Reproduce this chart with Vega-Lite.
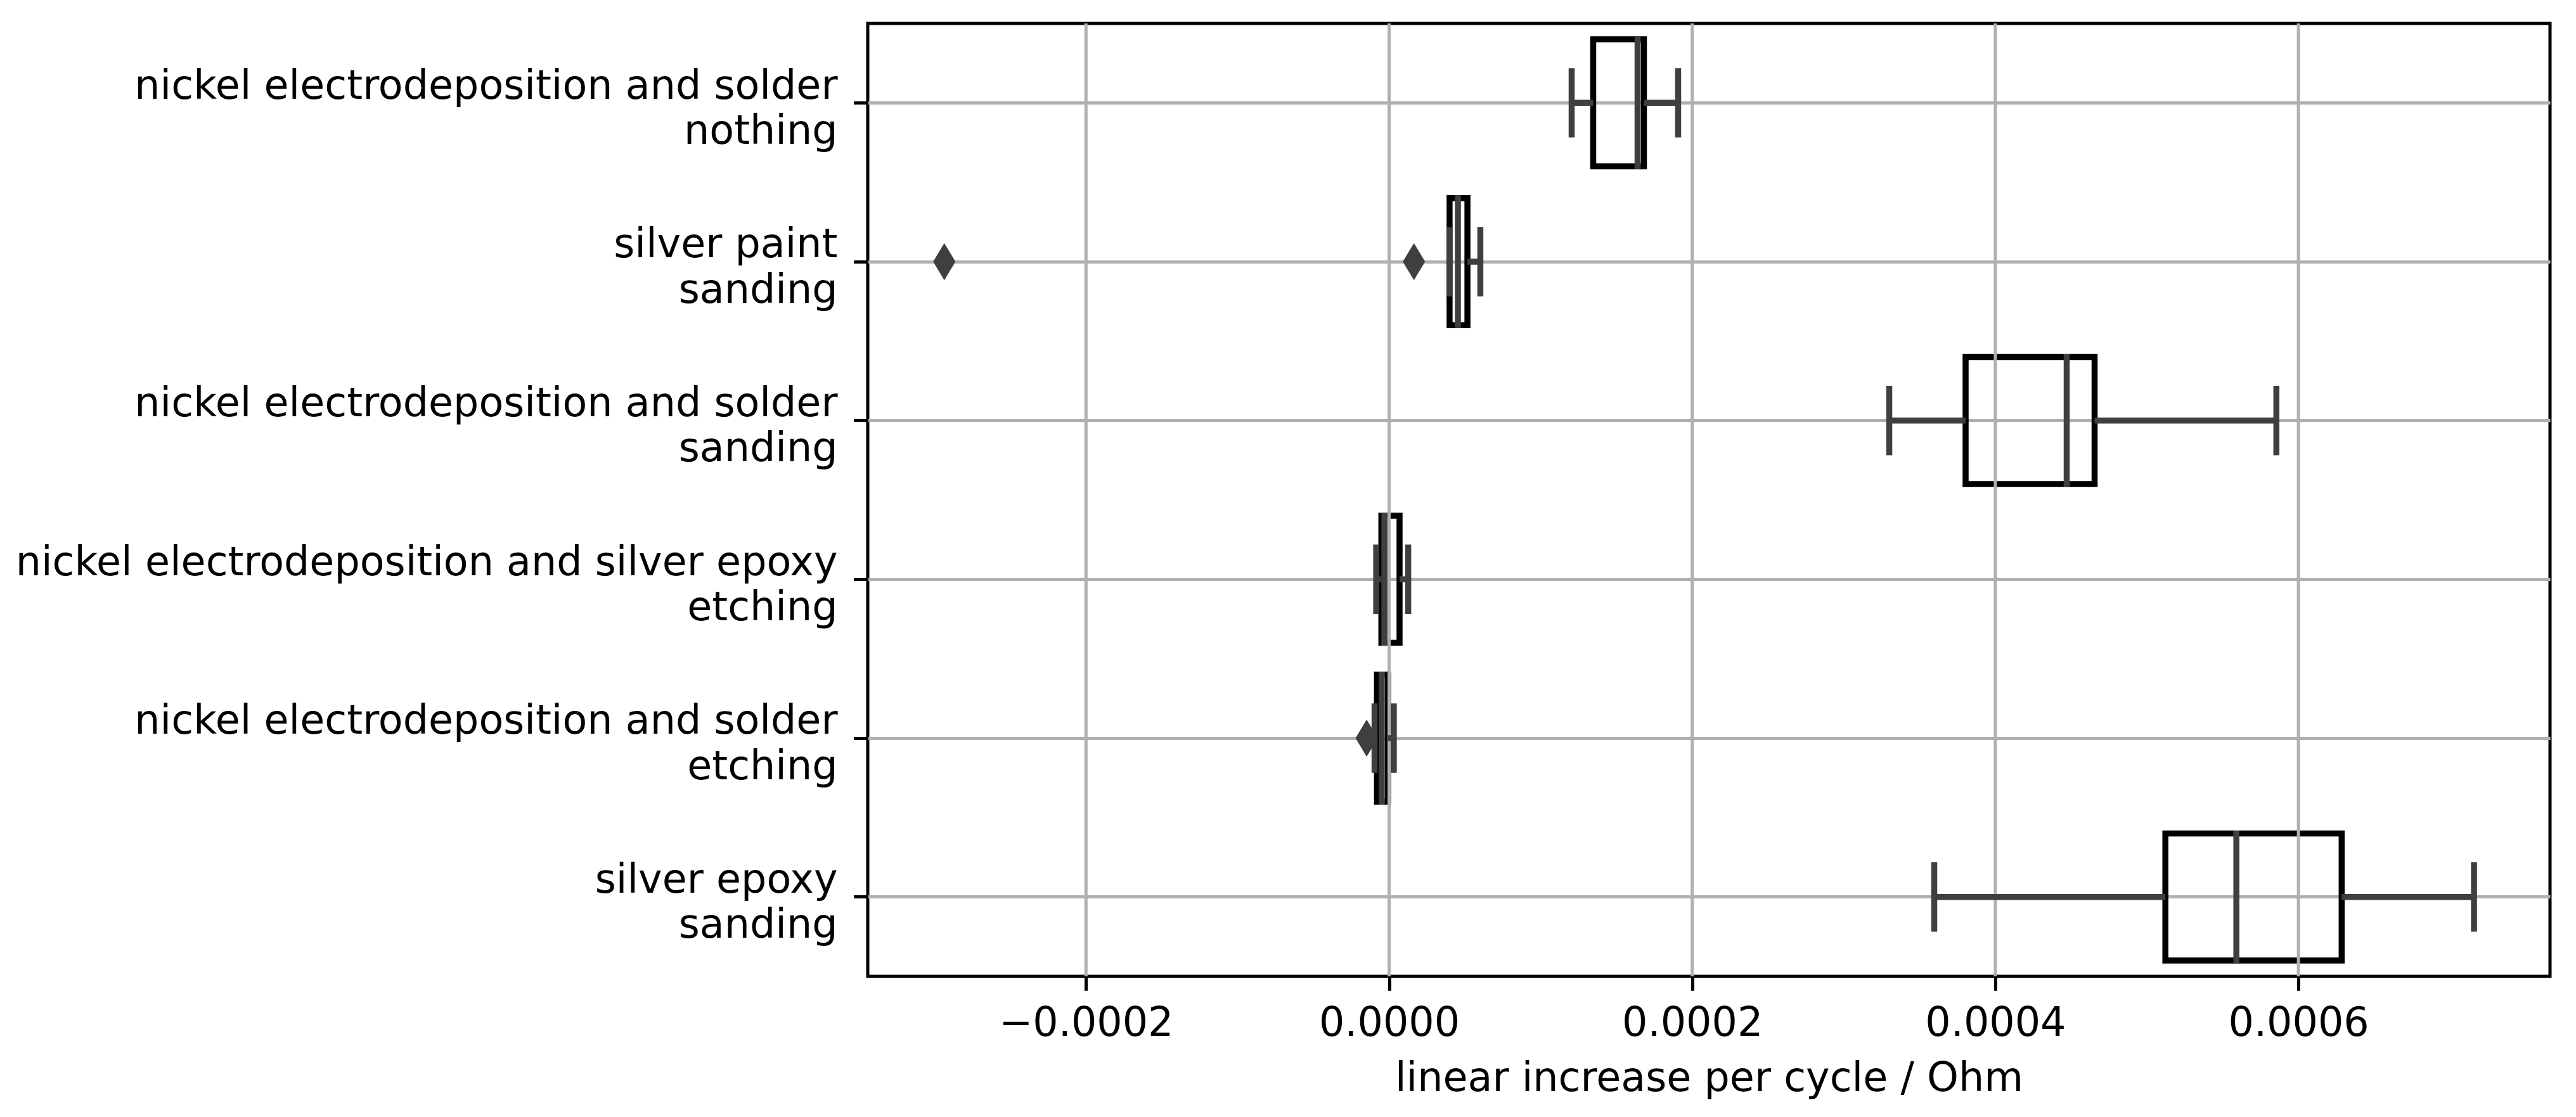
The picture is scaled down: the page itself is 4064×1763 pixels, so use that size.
{
  "$schema": "https://vega.github.io/schema/vega-lite/v6.json",
  "width": 2654,
  "height": 1504,
  "autosize": {"type": "none"},
  "padding": {"left": 1369, "top": 37, "right": 41, "bottom": 222},
  "background": "white",
  "config": {
    "view": {"stroke": "black", "strokeWidth": 5},
    "font": "DejaVu Sans",
    "axisY": {
      "labelExpr": "split(datum.label, '\\n')",
      "labelAlign": "right",
      "labelBaseline": "alphabetic",
      "labelOffset": -6.6,
      "labelLineHeight": 71.4,
      "labelPadding": 25.7,
      "labelFontSize": 63.5,
      "labelFont": "DejaVu Sans",
      "labelColor": "black",
      "labelLimit": 0,
      "tickSize": 22.3,
      "tickWidth": 5,
      "tickColor": "black",
      "domain": false,
      "grid": true,
      "gridColor": "#b0b0b0",
      "gridWidth": 5,
      "gridOpacity": 1,
      "bandPosition": 0.5,
      "zindex": 0
    },
    "axisX": {
      "format": ".4f",
      "labelFontSize": 63.5,
      "labelFont": "DejaVu Sans",
      "labelColor": "black",
      "labelBaseline": "alphabetic",
      "labelPadding": 71,
      "labelLimit": 0,
      "labelFlush": false,
      "labelOverlap": false,
      "tickSize": 22.3,
      "tickWidth": 5,
      "tickColor": "black",
      "domain": false,
      "grid": false,
      "titleFontSize": 63.5,
      "titleFont": "DejaVu Sans",
      "titleFontWeight": "normal",
      "titleColor": "black",
      "titleBaseline": "alphabetic",
      "titleY": 180.7,
      "titleLimit": 0,
      "zindex": 0
    }
  },
  "datasets": {
    "stats": [
      {"group": "nickel electrodeposition and solder\nnothing", "low": 0.00012045, "q1": 0.00013467, "median": 0.00016395, "q3": 0.00016813, "high": 0.00019071},
      {"group": "silver paint\nsanding", "low": 0.0000398, "q1": 0.0000399, "median": 0.0000454, "q3": 0.0000517, "high": 0.0000602},
      {"group": "nickel electrodeposition and solder\nsanding", "low": 0.00033, "q1": 0.00038039, "median": 0.00044709, "q3": 0.0004655, "high": 0.00058545},
      {"group": "nickel electrodeposition and silver epoxy\netching", "low": -0.0000085, "q1": -0.0000051, "median": -0.0000031, "q3": 0.0000069, "high": 0.0000126},
      {"group": "nickel electrodeposition and solder\netching", "low": -0.0000096, "q1": -0.000008, "median": -0.0000048, "q3": -0.0000007, "high": 0.0000031},
      {"group": "silver epoxy\nsanding", "low": 0.00035968, "q1": 0.00051221, "median": 0.00055905, "q3": 0.00062852, "high": 0.00071585}
    ],
    "outliers": [
      {"group": "silver paint\nsanding", "value": -0.0002935},
      {"group": "silver paint\nsanding", "value": 0.0000164},
      {"group": "nickel electrodeposition and solder\netching", "value": -0.0000148}
    ],
    "gridx": [
      {"v": -0.0002}, {"v": 0}, {"v": 0.0002}, {"v": 0.0004}, {"v": 0.0006}
    ]
  },
  "layer": [
    {
      "data": {"name": "stats"},
      "mark": {"type": "bar", "height": {"band": 0.8}, "fill": "transparent", "stroke": "black", "strokeWidth": 9.5},
      "encoding": {
        "y": {"field": "group", "type": "nominal", "title": null, "scale": {"domain": ["nickel electrodeposition and solder\nnothing", "silver paint\nsanding", "nickel electrodeposition and solder\nsanding", "nickel electrodeposition and silver epoxy\netching", "nickel electrodeposition and solder\netching", "silver epoxy\nsanding"], "paddingInner": 0, "paddingOuter": 0}},
        "x": {"field": "q1", "type": "quantitative", "title": "linear increase per cycle / Ohm", "scale": {"domain": [-0.000344, 0.000766], "nice": false, "zero": false}, "axis": {"values": [-0.0002, 0, 0.0002, 0.0004, 0.0006]}},
        "x2": {"field": "q3"}
      }
    },
    {
      "data": {"name": "gridx"},
      "mark": {"type": "rule", "color": "#b0b0b0", "strokeWidth": 5},
      "encoding": {
        "x": {"field": "v", "type": "quantitative", "title": "linear increase per cycle / Ohm", "axis": {"values": [-0.0002, 0, 0.0002, 0.0004, 0.0006]}}
      }
    },
    {
      "data": {"name": "stats"},
      "mark": {"type": "rule", "color": "#3f3f3f", "strokeWidth": 9.5},
      "encoding": {
        "y": {"field": "group", "type": "nominal", "title": null},
        "x": {"field": "low", "type": "quantitative", "title": "linear increase per cycle / Ohm", "axis": {"values": [-0.0002, 0, 0.0002, 0.0004, 0.0006]}},
        "x2": {"field": "q1"}
      }
    },
    {
      "data": {"name": "stats"},
      "mark": {"type": "rule", "color": "#3f3f3f", "strokeWidth": 9.5},
      "encoding": {
        "y": {"field": "group", "type": "nominal", "title": null},
        "x": {"field": "q3", "type": "quantitative", "title": "linear increase per cycle / Ohm", "axis": {"values": [-0.0002, 0, 0.0002, 0.0004, 0.0006]}},
        "x2": {"field": "high"}
      }
    },
    {
      "data": {"name": "stats"},
      "mark": {"type": "tick", "orient": "vertical", "size": 109.5, "thickness": 9.5, "color": "#3f3f3f", "opacity": 1},
      "encoding": {
        "y": {"field": "group", "type": "nominal", "title": null},
        "x": {"field": "low", "type": "quantitative", "title": "linear increase per cycle / Ohm", "axis": {"values": [-0.0002, 0, 0.0002, 0.0004, 0.0006]}}
      }
    },
    {
      "data": {"name": "stats"},
      "mark": {"type": "tick", "orient": "vertical", "size": 109.5, "thickness": 9.5, "color": "#3f3f3f", "opacity": 1},
      "encoding": {
        "y": {"field": "group", "type": "nominal", "title": null},
        "x": {"field": "high", "type": "quantitative", "title": "linear increase per cycle / Ohm", "axis": {"values": [-0.0002, 0, 0.0002, 0.0004, 0.0006]}}
      }
    },
    {
      "data": {"name": "stats"},
      "mark": {"type": "tick", "orient": "vertical", "size": 209.5, "thickness": 9.5, "color": "#3f3f3f", "opacity": 1},
      "encoding": {
        "y": {"field": "group", "type": "nominal", "title": null},
        "x": {"field": "median", "type": "quantitative", "title": "linear increase per cycle / Ohm", "axis": {"values": [-0.0002, 0, 0.0002, 0.0004, 0.0006]}}
      }
    },
    {
      "data": {"name": "outliers"},
      "mark": {"type": "point", "shape": "M0,-1L0.6,0L0,1L-0.6,0Z", "size": 3446, "filled": true, "color": "#3f3f3f", "opacity": 1, "strokeWidth": 0},
      "encoding": {
        "y": {"field": "group", "type": "nominal", "title": null},
        "x": {"field": "value", "type": "quantitative", "title": "linear increase per cycle / Ohm", "axis": {"values": [-0.0002, 0, 0.0002, 0.0004, 0.0006]}}
      }
    }
  ]
}
